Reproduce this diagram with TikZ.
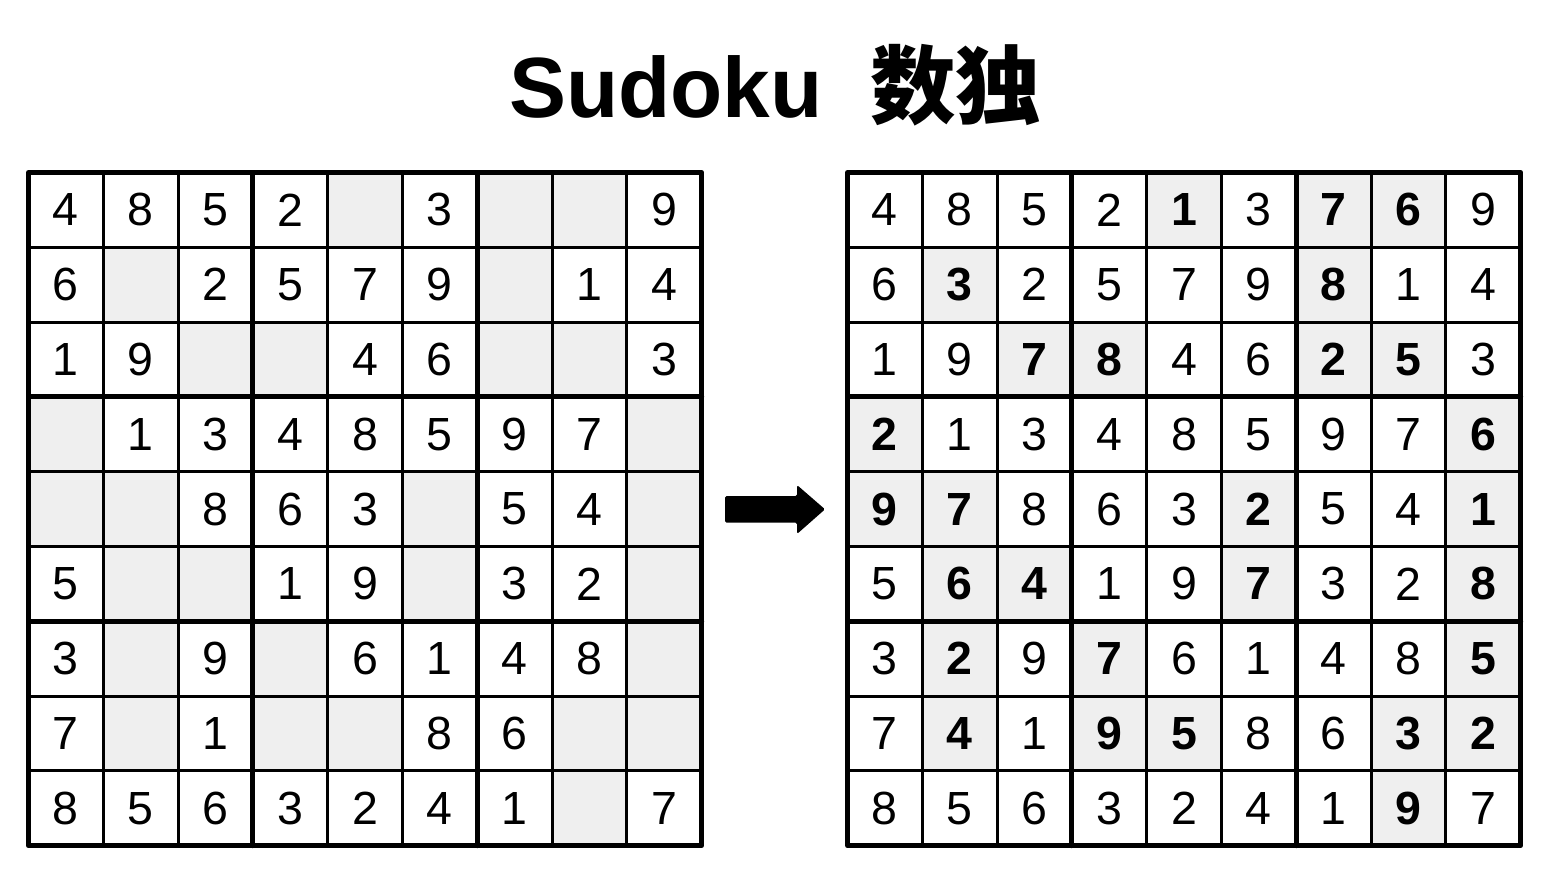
\documentclass[tikz,border=0pt]{standalone}
\usepackage{fontspec}
\setmainfont{Liberation Sans}
\newfontfamily\cjk{Noto Sans CJK SC}
\usetikzlibrary{positioning}
\definecolor{cellgray}{RGB}{239,239,239}
\newcommand{\cs}{74.8}
\newcommand{\xL}{28.5}
\newcommand{\xR}{847.5}
\newcommand{\yT}{172.5}
\begin{document}
\begin{tikzpicture}[x=1pt,y=-1pt,
    cell/.style={minimum size=\cs pt,inner sep=0pt,font=\fontsize{46.5}{50}\selectfont},
    blank/.style={fill=cellgray},
    filled/.style={blank,font=\fontsize{46.5}{50}\selectfont\bfseries},
    thin/.style={line width=3pt},
    thick/.style={line width=5pt,line cap=round,line join=round}]
              \useasboundingbox (0,0) rectangle (1550,872);
              \node[anchor=base west,inner sep=0pt,font=\fontsize{85.5}{94}\selectfont\bfseries] (title) at (509,118) {Sudoku};
              \node[anchor=base west,inner sep=0pt,font=\fontsize{85.5}{94}\selectfont\cjk\bfseries] (titlecjk) at (870,118) {数独};
              \foreach \rowdata [count=\r] in {{4,8,5,2,-1,3,-7,-6,9},{6,-3,2,5,7,9,-8,1,4},{1,9,-7,-8,4,6,-2,-5,3},
                  {-2,1,3,4,8,5,9,7,-6},{-9,-7,8,6,3,-2,5,4,-1},{5,-6,-4,1,9,-7,3,2,-8},
                  {3,-2,9,-7,6,1,4,8,-5},{7,-4,1,-9,-5,8,6,-3,-2},{8,5,6,3,2,4,1,-9,7}} {
                \foreach \d [count=\c] in \rowdata {
                  \ifnum\d<0
                    \node[cell,blank] (L-\r-\c) at ({\xL+(\c-0.5)*\cs},{\yT+(\r-0.5)*\cs}) {};
                    \node[cell,filled] (R-\r-\c) at ({\xR+(\c-0.5)*\cs},{\yT+(\r-0.5)*\cs}) {\number-\d};
                  \else
                    \node[cell] (L-\r-\c) at ({\xL+(\c-0.5)*\cs},{\yT+(\r-0.5)*\cs}) {\d};
                    \node[cell] (R-\r-\c) at ({\xR+(\c-0.5)*\cs},{\yT+(\r-0.5)*\cs}) {\d};
                  \fi
                }
              }
              \foreach \x in {\xL,\xR} {
                \foreach \i in {1,2,4,5,7,8} {
                  \draw[thin] ({\x+\i*\cs},\yT) -- ++(0,9*\cs);
                  \draw[thin] (\x,{\yT+\i*\cs}) -- ++(9*\cs,0);
                }
                \foreach \i in {3,6} {
                  \draw[thick] ({\x+\i*\cs},\yT) -- ++(0,9*\cs);
                  \draw[thick] (\x,{\yT+\i*\cs}) -- ++(9*\cs,0);
                }
                \draw[thick] (\x,\yT) rectangle ++(9*\cs,9*\cs);
              }
              \fill[rounded corners=1.5pt] (725,496) -- (797,496) -- (797,485) -- (825,509.3)
                -- (797,534) -- (797,522.7) -- (725,522.7) -- cycle;
            \end{tikzpicture}
\end{document}
